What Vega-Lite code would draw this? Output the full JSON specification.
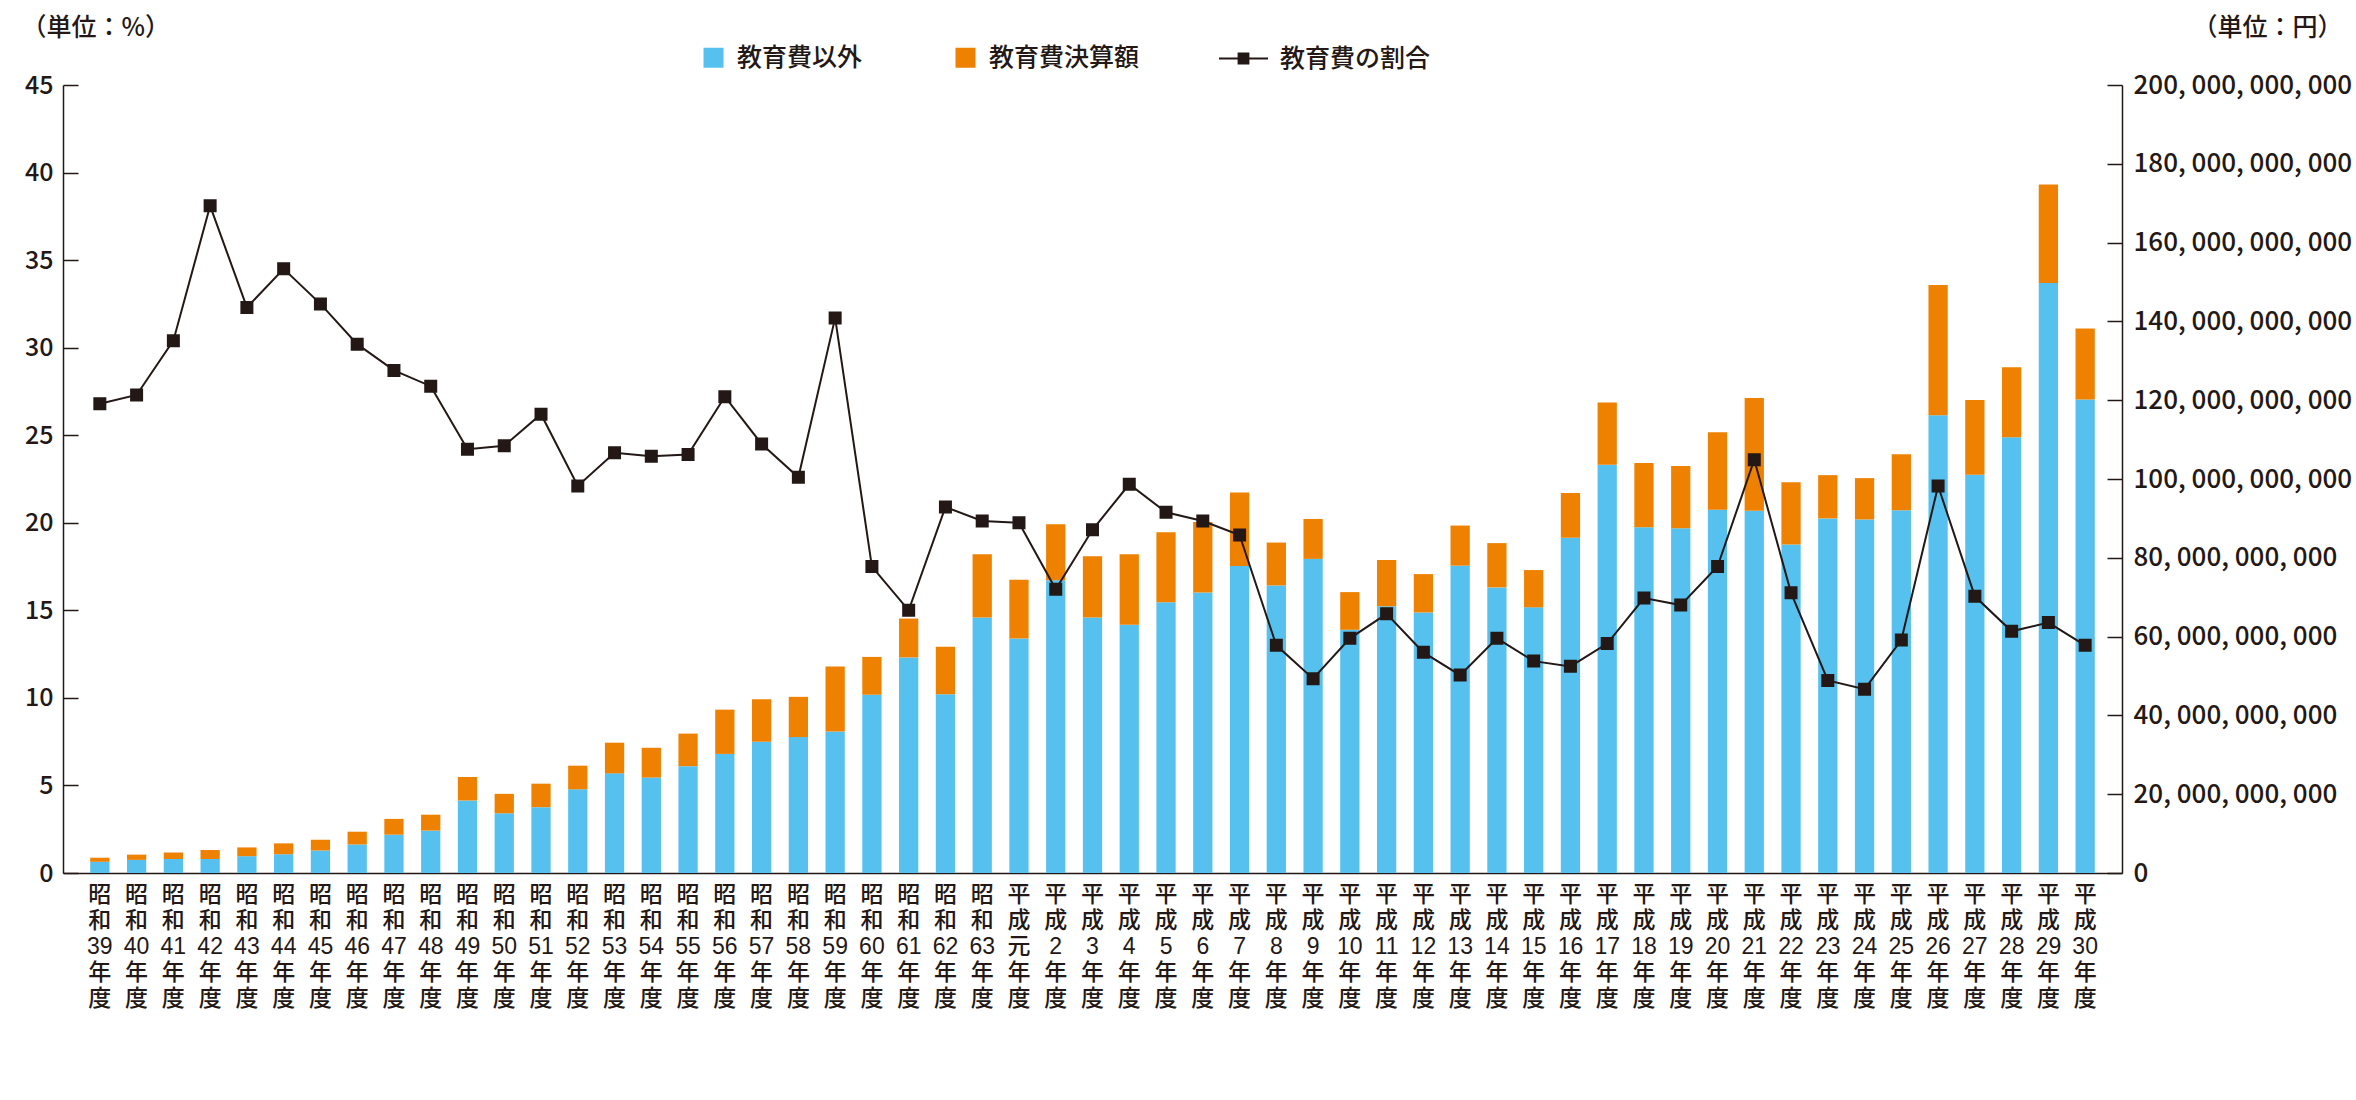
{
  "$schema": "https://vega.github.io/schema/vega-lite/v6.json",
  "width": 2059,
  "height": 788,
  "autosize": {"type": "none"},
  "padding": {"left": 63, "top": 85, "right": 234, "bottom": 227},
  "background": "white",
  "config": {
    "font": "Noto Sans CJK JP",
    "view": {"stroke": null},
    "axis": {"labelColor": "#231815", "domainColor": "#231815", "tickColor": "#231815", "titleColor": "#231815", "grid": false, "labelFont": "Noto Sans CJK JP", "titleFont": "Noto Sans CJK JP", "labelFontWeight": 500, "titleFontWeight": 500},
    "legend": {"labelColor": "#231815", "labelFont": "Noto Sans CJK JP", "labelLimit": 400, "labelFontWeight": 500}
  },
  "data": {
    "values": [
      {"年度": "昭和39年度", "教育費以外": 2840000000, "教育費決算額": 1040000000, "教育費の割合": 26.8},
      {"年度": "昭和40年度", "教育費以外": 3330000000, "教育費決算額": 1330000000, "教育費の割合": 27.3},
      {"年度": "昭和41年度", "教育費以外": 3560000000, "教育費決算額": 1640000000, "教育費の割合": 30.4},
      {"年度": "昭和42年度", "教育費以外": 3560000000, "教育費決算額": 2270000000, "教育費の割合": 38.1},
      {"年度": "昭和43年度", "教育費以外": 4270000000, "教育費決算額": 2220000000, "教育費の割合": 32.3},
      {"年度": "昭和44年度", "教育費以外": 4760000000, "教育費決算額": 2760000000, "教育費の割合": 34.5},
      {"年度": "昭和45年度", "教育費以外": 5690000000, "教育費決算額": 2760000000, "教育費の割合": 32.5},
      {"年度": "昭和46年度", "教育費以外": 7240000000, "教育費決算額": 3240000000, "教育費の割合": 30.2},
      {"年度": "昭和47年度", "教育費以外": 9730000000, "教育費決算額": 4000000000, "教育費の割合": 28.7},
      {"年度": "昭和48年度", "教育費以外": 10760000000, "教育費決算額": 4040000000, "教育費の割合": 27.8},
      {"年度": "昭和49年度", "教育費以外": 18400000000, "教育費決算額": 5960000000, "教育費の割合": 24.2},
      {"年度": "昭和50年度", "教育費以外": 15160000000, "教育費決算額": 4930000000, "教育費の割合": 24.4},
      {"年度": "昭和51年度", "教育費以外": 16710000000, "教育費決算額": 5960000000, "教育費の割合": 26.2},
      {"年度": "昭和52年度", "教育費以外": 21240000000, "教育費決算額": 6000000000, "教育費の割合": 22.1},
      {"年度": "昭和53年度", "教育費以外": 25290000000, "教育費決算額": 7780000000, "教育費の割合": 24.0},
      {"年度": "昭和54年度", "教育費以外": 24220000000, "教育費決算額": 7560000000, "教育費の割合": 23.8},
      {"年度": "昭和55年度", "教育費以外": 27110000000, "教育費決算額": 8270000000, "教育費の割合": 23.9},
      {"年度": "昭和56年度", "教育費以外": 30220000000, "教育費決算額": 11240000000, "教育費の割合": 27.2},
      {"年度": "昭和57年度", "教育費以外": 33330000000, "教育費決算額": 10800000000, "教育費の割合": 24.5},
      {"年度": "昭和58年度", "教育費以外": 34490000000, "教育費決算額": 10220000000, "教育費の割合": 22.6},
      {"年度": "昭和59年度", "教育費以外": 35910000000, "教育費決算額": 16490000000, "教育費の割合": 31.7},
      {"年度": "昭和60年度", "教育費以外": 45240000000, "教育費決算額": 9600000000, "教育費の割合": 17.5},
      {"年度": "昭和61年度", "教育費以外": 54710000000, "教育費決算額": 9870000000, "教育費の割合": 15.0},
      {"年度": "昭和62年度", "教育費以外": 45380000000, "教育費決算額": 12040000000, "教育費の割合": 20.9},
      {"年度": "昭和63年度", "教育費以外": 64840000000, "教育費決算額": 16040000000, "教育費の割合": 20.1},
      {"年度": "平成元年度", "教育費以外": 59510000000, "教育費決算額": 14890000000, "教育費の割合": 20.0},
      {"年度": "平成2年度", "教育費以外": 74310000000, "教育費決算額": 14220000000, "教育費の割合": 16.2},
      {"年度": "平成3年度", "教育費以外": 64840000000, "教育費決算額": 15560000000, "教育費の割合": 19.6},
      {"年度": "平成4年度", "教育費以外": 63020000000, "教育費決算額": 17870000000, "教育費の割合": 22.2},
      {"年度": "平成5年度", "教育費以外": 68710000000, "教育費決算額": 17780000000, "教育費の割合": 20.6},
      {"年度": "平成6年度", "教育費以外": 71200000000, "教育費決算額": 17870000000, "教育費の割合": 20.1},
      {"年度": "平成7年度", "教育費以外": 77910000000, "教育費決算額": 18670000000, "教育費の割合": 19.3},
      {"年度": "平成8年度", "教育費以外": 72980000000, "教育費決算額": 10890000000, "教育費の割合": 13.0},
      {"年度": "平成9年度", "教育費以外": 79730000000, "教育費決算額": 10130000000, "教育費の割合": 11.1},
      {"年度": "平成10年度", "教育費以外": 61730000000, "教育費決算額": 9560000000, "教育費の割合": 13.4},
      {"年度": "平成11年度", "教育費以外": 67690000000, "教育費決算額": 11780000000, "教育費の割合": 14.8},
      {"年度": "平成12年度", "教育費以外": 66130000000, "教育費決算額": 9730000000, "教育費の割合": 12.6},
      {"年度": "平成13年度", "教育費以外": 78000000000, "教育費決算額": 10180000000, "教育費の割合": 11.3},
      {"年度": "平成14年度", "教育費以外": 72490000000, "教育費決算額": 11240000000, "教育費の割合": 13.4},
      {"年度": "平成15年度", "教育費以外": 67420000000, "教育費決算額": 9470000000, "教育費の割合": 12.1},
      {"年度": "平成16年度", "教育費以外": 85070000000, "教育費決算額": 11380000000, "教育費の割合": 11.8},
      {"年度": "平成17年度", "教育費以外": 103600000000, "教育費決算額": 15820000000, "教育費の割合": 13.1},
      {"年度": "平成18年度", "教育費以外": 87780000000, "教育費決算額": 16310000000, "教育費の割合": 15.7},
      {"年度": "平成19年度", "教育費以外": 87510000000, "教育費決算額": 15820000000, "教育費の割合": 15.3},
      {"年度": "平成20年度", "教育費以外": 92180000000, "教育費決算額": 19690000000, "教育費の割合": 17.5},
      {"年度": "平成21年度", "教育費以外": 91910000000, "教育費決算額": 28670000000, "教育費の割合": 23.6},
      {"年度": "平成22年度", "教育費以外": 83380000000, "教育費決算額": 15820000000, "教育費の割合": 16.0},
      {"年度": "平成23年度", "教育費以外": 90000000000, "教育費決算額": 10980000000, "教育費の割合": 11.0},
      {"年度": "平成24年度", "教育費以外": 89730000000, "教育費決算額": 10490000000, "教育費の割合": 10.5},
      {"年度": "平成25年度", "教育費以外": 92040000000, "教育費決算額": 14270000000, "教育費の割合": 13.3},
      {"年度": "平成26年度", "教育費以外": 116180000000, "教育費決算額": 33070000000, "教育費の割合": 22.1},
      {"年度": "平成27年度", "教育費以外": 101110000000, "教育費決算額": 18930000000, "教育費の割合": 15.8},
      {"年度": "平成28年度", "教育費以外": 110580000000, "教育費決算額": 17780000000, "教育費の割合": 13.8},
      {"年度": "平成29年度", "教育費以外": 149730000000, "教育費決算額": 25020000000, "教育費の割合": 14.3},
      {"年度": "平成30年度", "教育費以外": 120180000000, "教育費決算額": 18040000000, "教育費の割合": 13.0}
    ]
  },
  "encoding": {
    "x": {
      "field": "年度",
      "type": "nominal",
      "sort": null,
      "scale": {"paddingInner": 0.476, "paddingOuter": 0.74},
      "axis": {
        "title": null,
        "labelAngle": 0,
        "ticks": false,
        "domainWidth": 1.5,
        "labelFont": "Liberation Sans, Noto Sans CJK JP",
        "labelFontSize": 23,
        "labelLineHeight": 26,
        "labelBaseline": "top",
        "labelAlign": "center",
        "labelPadding": 10,
        "labelOverlap": false,
        "labelExpr": "[substring(datum.label,0,1), substring(datum.label,1,2), substring(datum.label,2,length(datum.label)-2), '年', '度']"
      }
    }
  },
  "layer": [
    {
      "transform": [{"fold": ["教育費以外", "教育費決算額"], "as": ["系列", "金額"]}],
      "mark": {"type": "bar"},
      "encoding": {
        "y": {
          "field": "金額",
          "type": "quantitative",
          "stack": "zero",
          "scale": {"domain": [0, 200000000000], "nice": false},
          "axis": {
            "orient": "right",
            "title": "（単位：円）",
            "titleAngle": 0,
            "titleAlign": "right",
            "titleBaseline": "middle",
            "titleX": 220,
            "titleY": -58,
            "titleFontSize": 25,
            "values": [0, 20000000000, 40000000000, 60000000000, 80000000000, 100000000000, 120000000000, 140000000000, 160000000000, 180000000000, 200000000000],
            "tickSize": -15,
            "tickWidth": 1.5,
            "domainWidth": 1.5,
            "labelFontSize": 26,
            "labelPadding": 26,
            "labelLimit": 0,
            "labelExpr": "replace(format(datum.value, ','), regexp(',', 'g'), ', ')"
          }
        },
        "color": {
          "field": "系列",
          "type": "nominal",
          "scale": {"domain": ["教育費以外", "教育費決算額"], "range": ["#56C1EF", "#EE8100"]},
          "legend": {
            "title": null,
            "orient": "none",
            "direction": "horizontal",
            "legendX": 638,
            "legendY": -40,
            "symbolType": "square",
            "symbolSize": 400,
            "symbolStrokeWidth": 0,
            "labelFontSize": 25,
            "labelOffset": 11,
            "columnPadding": 90,
            "padding": 0
          }
        },
        "order": {"field": "系列", "sort": "ascending"}
      }
    },
    {
      "mark": {"type": "line", "strokeWidth": 2, "point": {"shape": "square", "size": 121, "filled": true, "fill": "#231815", "opacity": 1}},
      "encoding": {
        "y": {
          "field": "教育費の割合",
          "type": "quantitative",
          "scale": {"domain": [0, 45], "nice": false},
          "axis": {
            "orient": "left",
            "title": "（単位：%）",
            "titleAngle": 0,
            "titleAlign": "left",
            "titleBaseline": "middle",
            "titleX": -42,
            "titleY": -58,
            "titleFontSize": 25,
            "values": [0, 5, 10, 15, 20, 25, 30, 35, 40, 45],
            "tickSize": -15,
            "tickWidth": 1.5,
            "domainWidth": 1.5,
            "labelFontSize": 25,
            "labelPadding": 25
          }
        },
        "stroke": {
          "datum": "教育費の割合",
          "scale": {"range": ["#231815"]},
          "legend": {
            "title": null,
            "orient": "none",
            "legendX": 1155,
            "legendY": -52,
            "symbolType": "M-1,0H1M-0.2,-0.2H0.2V0.2H-0.2Z",
            "symbolSize": 2401,
            "symbolStrokeWidth": 2,
            "symbolFillColor": "#231815",
            "labelFontSize": 25,
            "labelOffset": 11,
            "padding": 0
          }
        }
      }
    }
  ],
  "resolve": {"scale": {"y": "independent"}}
}
